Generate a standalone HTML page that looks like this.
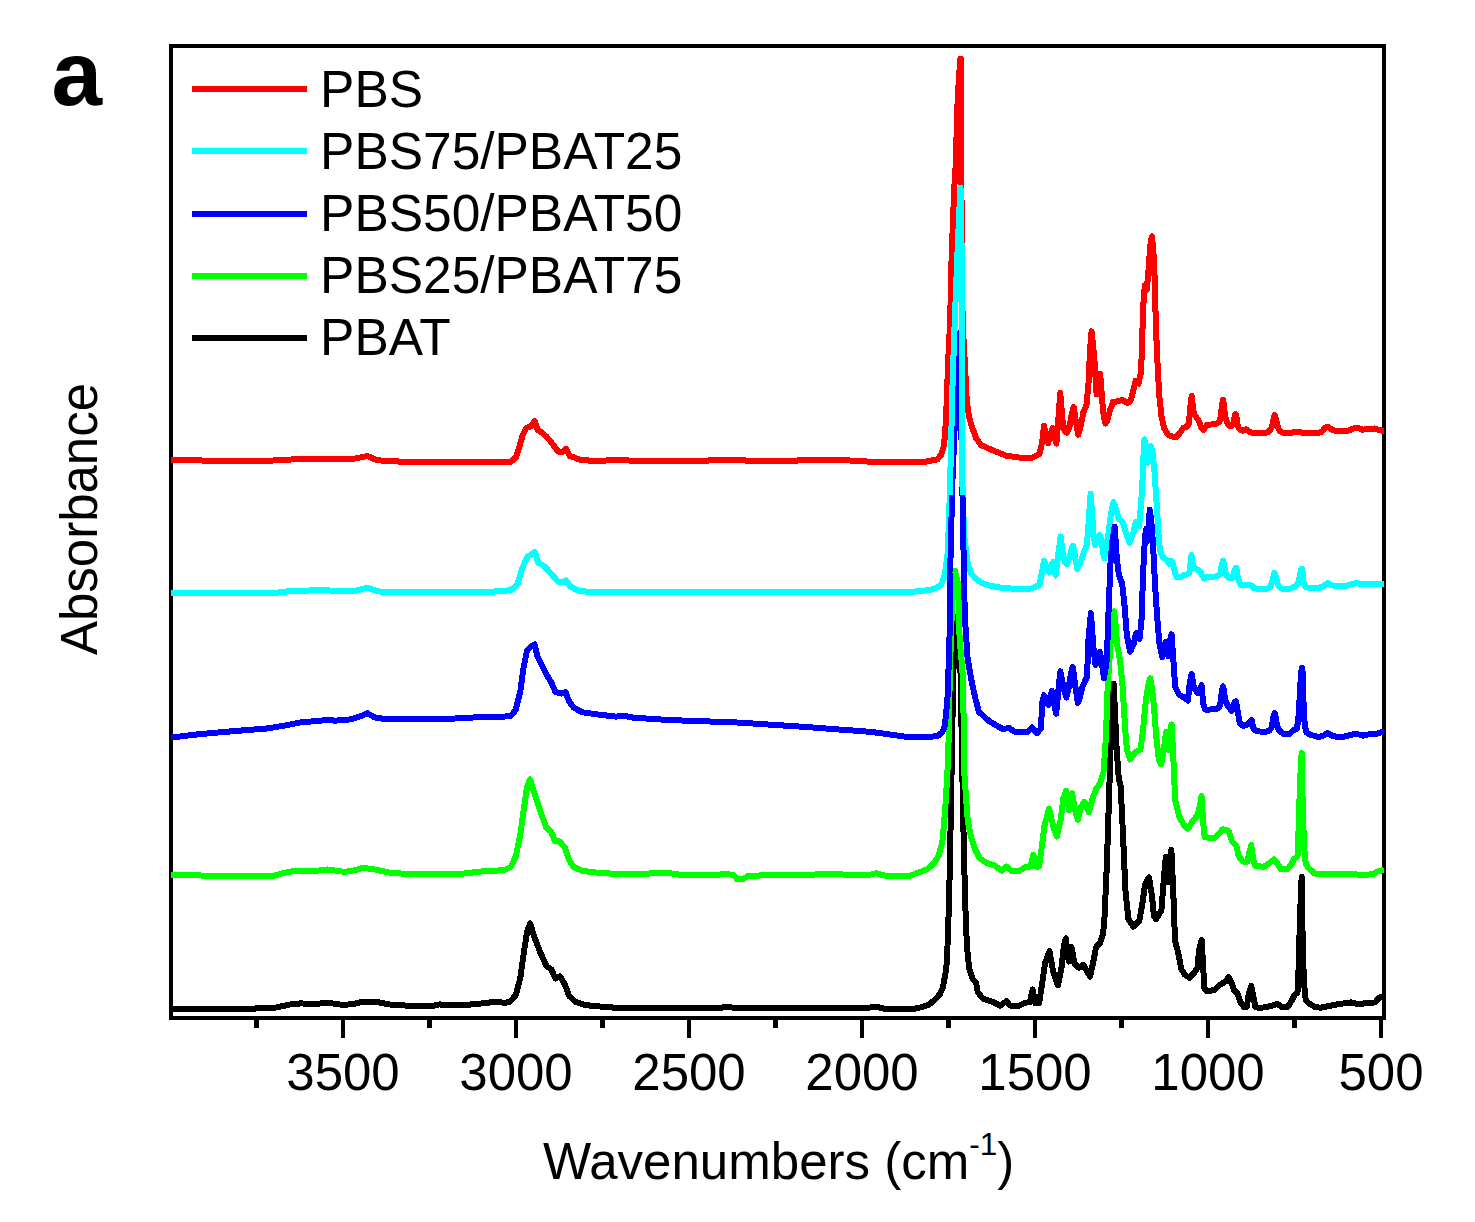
<!DOCTYPE html>
<html lang="en"><head><meta charset="utf-8"><title>FTIR spectra of PBS/PBAT blends</title>
<style>
html,body{margin:0;padding:0;background:#fff;}
body{width:1475px;height:1222px;overflow:hidden;}
svg{display:block;}
text{font-family:"Liberation Sans",sans-serif;fill:#000;}
.c{fill:none;stroke-width:6;stroke-linejoin:round;stroke-linecap:butt;}
</style></head><body>
<svg width="1475" height="1222" viewBox="0 0 1475 1222">
<rect x="0" y="0" width="1475" height="1222" fill="#fff"/>

<g shape-rendering="crispEdges" stroke="#000" fill="none">
<rect x="171" y="46" width="1213" height="972" stroke-width="4"/>
<line x1="1381.0" y1="1018" x2="1381.0" y2="1038" stroke-width="4"/>
<line x1="1294.5" y1="1018" x2="1294.5" y2="1028" stroke-width="5"/>
<line x1="1208.0" y1="1018" x2="1208.0" y2="1038" stroke-width="4"/>
<line x1="1121.5" y1="1018" x2="1121.5" y2="1028" stroke-width="5"/>
<line x1="1035.0" y1="1018" x2="1035.0" y2="1038" stroke-width="4"/>
<line x1="948.5" y1="1018" x2="948.5" y2="1028" stroke-width="5"/>
<line x1="862.0" y1="1018" x2="862.0" y2="1038" stroke-width="4"/>
<line x1="775.5" y1="1018" x2="775.5" y2="1028" stroke-width="5"/>
<line x1="689.0" y1="1018" x2="689.0" y2="1038" stroke-width="4"/>
<line x1="602.5" y1="1018" x2="602.5" y2="1028" stroke-width="5"/>
<line x1="516.0" y1="1018" x2="516.0" y2="1038" stroke-width="4"/>
<line x1="429.5" y1="1018" x2="429.5" y2="1028" stroke-width="5"/>
<line x1="343.0" y1="1018" x2="343.0" y2="1038" stroke-width="4"/>
<line x1="256.5" y1="1018" x2="256.5" y2="1028" stroke-width="5"/>
</g>
<clipPath id="cp"><rect x="170" y="46" width="1215" height="972"/></clipPath>
<g clip-path="url(#cp)" shape-rendering="crispEdges">
<polyline class="c" stroke="#ff0000" points="171.0,460.0 256.5,461.4 300.6,459.0 341.0,459.3 355.0,458.5 367.7,456.0 377.0,460.3 402.0,461.7 510.8,461.7 515.8,457.6 519.2,447.5 522.6,435.6 526.0,428.2 530.4,426.4 532.5,425.0 534.5,421.0 536.0,424.5 537.5,429.8 541.3,432.2 546.4,436.6 551.4,442.4 558.0,451.5 562.0,452.5 566.0,449.0 570.0,456.0 580.0,459.7 593.8,461.0 626.0,459.7 631.0,461.0 665.0,461.0 707.0,461.0 710.5,460.0 744.0,460.3 752.0,461.4 792.0,461.4 799.0,460.3 846.0,460.3 870.0,461.7 903.7,462.4 924.0,462.0 937.6,459.3 941.4,454.4 943.5,447.0 945.0,436.0 946.8,400.0 948.0,364.0 950.2,320.0 951.3,267.0 952.5,233.0 954.3,187.0 956.0,160.0 957.0,114.0 958.2,90.0 960.3,59.0 961.0,59.0 961.3,90.0 961.5,200.0 962.0,290.0 963.0,330.0 964.9,364.0 966.7,400.0 969.2,418.0 972.8,429.0 976.0,438.0 981.0,445.0 992.0,450.0 1006.0,455.6 1020.0,457.7 1032.3,457.7 1039.4,454.2 1042.0,443.0 1044.1,425.5 1046.0,437.0 1048.2,443.0 1050.5,434.0 1052.7,428.3 1054.5,438.0 1056.4,443.5 1058.3,420.0 1060.3,393.0 1062.5,420.0 1064.5,431.0 1067.0,432.7 1069.5,427.0 1071.5,415.0 1073.6,407.0 1075.7,420.0 1078.3,434.8 1080.5,427.0 1083.4,412.3 1086.5,405.0 1088.5,383.6 1090.0,350.0 1091.6,331.3 1093.0,345.0 1094.7,363.2 1096.6,394.5 1098.5,378.5 1100.2,373.8 1101.4,389.8 1102.8,408.0 1104.0,418.0 1105.6,423.5 1107.5,420.0 1110.0,410.2 1113.0,402.0 1116.0,401.6 1122.3,400.0 1127.4,403.0 1130.5,401.0 1132.9,391.8 1135.6,380.6 1138.6,383.6 1141.1,371.4 1142.1,342.7 1143.1,308.0 1144.8,285.5 1146.8,290.0 1148.5,270.0 1150.3,246.0 1151.9,236.4 1153.3,250.0 1154.6,277.3 1155.4,308.0 1156.6,342.7 1158.0,373.4 1159.5,398.0 1161.5,416.4 1164.2,428.6 1168.3,434.8 1172.0,436.5 1176.0,437.4 1180.4,432.2 1183.4,427.7 1186.5,427.0 1188.7,424.0 1189.3,418.0 1190.1,410.0 1191.0,400.0 1191.8,395.8 1192.3,400.0 1192.9,408.0 1194.0,414.0 1196.5,417.5 1198.5,420.5 1200.2,424.5 1201.5,428.0 1203.3,430.0 1207.3,424.7 1213.3,424.4 1217.0,423.5 1219.5,422.0 1220.2,419.0 1221.1,413.0 1222.1,404.0 1223.0,399.9 1223.6,403.0 1224.2,409.0 1225.0,414.0 1225.9,419.0 1227.2,423.0 1229.0,425.7 1231.0,426.0 1232.5,425.0 1233.6,422.5 1234.2,418.5 1235.0,415.0 1235.6,414.1 1236.2,415.5 1236.9,419.0 1237.5,424.0 1238.5,427.5 1240.1,429.8 1243.1,430.7 1246.1,429.2 1249.8,432.2 1253.5,433.0 1265.4,433.0 1268.3,431.9 1270.5,429.5 1271.8,426.5 1272.9,422.5 1274.0,417.0 1274.6,415.0 1275.2,416.5 1276.0,419.5 1277.0,423.5 1277.9,426.5 1279.0,429.5 1280.5,431.5 1283.3,433.0 1290.8,433.0 1293.8,431.9 1299.8,431.9 1302.7,433.0 1317.7,433.0 1322.1,431.5 1325.1,427.7 1328.1,426.5 1331.1,429.2 1335.5,431.0 1347.5,431.0 1353.4,428.5 1357.9,427.7 1362.4,429.7 1368.4,428.9 1374.3,428.5 1378.8,430.0 1384.0,431.0"/>
<polyline class="c" stroke="#00ffff" points="171.0,592.7 276.9,592.7 290.4,591.0 327.7,590.0 334.5,591.4 354.8,591.0 367.4,587.6 376.9,591.0 385.3,592.4 490.4,592.4 497.2,591.0 510.8,590.3 517.5,584.2 522.6,567.3 527.7,556.4 531.0,555.0 534.5,552.0 536.0,555.0 537.9,562.2 544.7,566.6 551.4,574.0 558.2,581.9 562.3,582.5 566.0,580.2 570.1,586.0 576.9,590.3 588.7,592.0 665.0,592.4 700.0,592.4 726.0,591.5 735.0,592.4 900.0,592.4 920.0,591.2 932.0,589.5 938.0,587.0 941.0,584.5 944.0,578.0 945.6,569.0 947.9,551.0 949.8,495.0 951.2,439.0 952.4,389.0 954.2,335.0 956.0,290.0 958.0,240.0 960.5,187.7 961.5,240.0 962.0,330.0 962.0,438.0 962.6,495.0 964.3,537.0 968.0,565.0 971.5,574.0 975.7,578.6 982.0,583.0 989.7,585.6 1000.0,587.5 1010.0,588.4 1020.0,589.2 1031.5,588.5 1039.5,585.0 1042.5,569.0 1044.1,560.5 1046.5,568.0 1048.7,572.5 1051.0,566.0 1053.2,562.0 1054.6,571.0 1055.8,575.5 1058.2,555.0 1060.6,536.5 1062.8,553.0 1065.0,562.0 1067.0,564.4 1069.5,557.0 1071.5,549.0 1073.2,545.6 1075.2,558.0 1077.3,569.0 1080.0,563.0 1083.0,555.3 1087.0,543.8 1088.8,520.0 1090.6,493.6 1092.0,512.0 1093.4,535.0 1095.3,545.5 1097.3,540.0 1099.5,535.0 1101.5,540.0 1103.0,552.0 1104.3,558.5 1106.0,548.0 1108.3,534.6 1110.8,515.0 1113.5,502.0 1116.0,509.0 1118.6,518.6 1122.7,522.0 1126.0,533.0 1129.6,542.7 1133.5,532.3 1135.8,522.0 1139.2,526.0 1142.2,488.8 1143.2,461.3 1144.4,439.5 1146.3,452.0 1147.8,463.0 1149.3,452.0 1151.0,446.0 1152.6,453.0 1154.1,465.9 1156.4,500.2 1158.3,530.0 1159.0,542.0 1160.0,549.0 1161.0,553.5 1162.5,556.8 1164.4,558.3 1167.0,560.5 1169.0,563.5 1171.3,560.8 1172.8,563.0 1174.3,570.0 1175.6,575.0 1177.0,577.0 1181.0,577.0 1183.5,575.0 1187.0,574.5 1189.3,573.0 1190.1,566.0 1191.1,558.0 1191.5,555.1 1191.9,558.0 1192.9,564.0 1194.0,567.5 1197.0,569.3 1199.5,571.0 1201.0,573.0 1202.3,576.0 1204.5,578.5 1207.0,577.0 1211.0,576.9 1215.0,576.5 1218.5,575.5 1220.3,573.5 1221.0,569.0 1222.0,563.5 1223.0,561.0 1223.3,562.0 1224.1,565.0 1225.1,570.5 1226.2,574.5 1228.0,577.5 1230.0,578.0 1232.0,578.0 1233.3,575.0 1234.0,572.0 1235.0,569.5 1236.0,567.9 1236.4,569.0 1237.0,572.0 1238.0,578.0 1239.0,581.5 1240.5,584.5 1243.1,585.2 1247.6,584.9 1251.3,585.5 1254.3,588.2 1259.5,589.0 1266.0,589.0 1268.0,588.5 1270.5,586.5 1272.0,582.5 1273.0,578.5 1274.0,574.0 1274.4,572.8 1275.1,574.0 1276.0,578.0 1277.0,581.5 1277.8,584.0 1278.9,586.3 1281.0,588.5 1283.3,589.0 1289.3,588.8 1293.5,587.3 1296.0,585.5 1298.1,583.0 1299.1,579.5 1300.1,574.5 1301.1,570.0 1302.2,568.9 1302.6,572.0 1302.9,578.0 1304.0,584.0 1305.5,587.3 1310.2,588.0 1319.1,587.9 1323.6,585.9 1327.8,583.0 1331.1,585.2 1335.5,585.9 1346.0,585.9 1352.0,584.0 1356.4,583.0 1360.9,584.0 1384.0,584.0"/>
<polyline class="c" stroke="#000000" points="171.0,1008.5 243.0,1008.8 273.5,1008.1 290.4,1004.4 300.6,1003.4 314.2,1004.1 327.7,1002.7 341.3,1004.7 351.4,1004.4 363.3,1001.7 375.2,1001.7 388.7,1004.4 409.1,1005.8 432.8,1005.8 439.6,1004.4 446.4,1005.4 473.5,1004.4 490.4,1002.4 498.9,1001.7 504.0,1003.0 510.1,1001.7 515.8,994.9 520.3,978.0 523.6,954.2 527.0,932.2 530.1,923.4 534.5,937.3 539.6,950.8 546.4,966.1 551.4,969.5 555.5,978.6 559.9,976.3 565.0,984.7 569.1,995.9 575.2,1001.7 585.3,1005.1 605.7,1007.1 629.4,1008.5 718.6,1008.1 725.4,1007.1 742.4,1008.1 854.2,1008.5 867.8,1007.8 876.3,1006.8 884.7,1008.8 894.9,1009.5 911.9,1009.2 922.0,1007.1 929.2,1004.5 936.0,998.8 940.0,994.0 942.9,987.3 946.3,969.0 947.5,946.1 949.1,900.3 950.5,831.6 951.8,760.0 953.2,675.0 955.0,640.0 957.5,616.0 959.0,640.0 960.6,675.0 962.1,760.0 963.5,831.6 965.1,900.3 966.9,946.1 969.2,969.0 972.7,979.3 976.1,982.7 977.7,991.9 983.0,998.8 993.3,1002.2 1000.1,1005.6 1006.6,1001.0 1010.0,1005.6 1018.6,1005.8 1025.4,1002.7 1029.8,1002.2 1032.6,989.5 1035.4,1003.2 1039.1,1003.1 1042.1,984.0 1045.0,963.4 1049.5,951.2 1053.2,971.8 1057.9,985.2 1061.4,968.5 1063.8,946.5 1065.9,938.4 1067.8,955.0 1068.8,961.5 1069.8,954.0 1071.5,947.2 1074.5,963.4 1078.9,967.8 1083.3,964.9 1090.1,976.6 1093.6,960.4 1096.0,947.2 1100.1,942.8 1102.8,935.0 1104.3,922.0 1106.8,866.2 1109.2,792.5 1111.5,718.9 1113.7,683.6 1116.6,748.4 1118.7,777.8 1120.7,786.7 1123.1,836.7 1125.4,889.7 1128.4,919.2 1133.4,926.6 1139.3,920.7 1142.2,904.5 1145.2,883.9 1149.0,877.4 1151.9,895.6 1154.0,916.3 1156.1,919.2 1161.4,910.4 1163.4,883.9 1165.8,857.3 1167.2,872.0 1168.3,882.0 1169.5,866.0 1170.5,854.0 1171.4,850.0 1173.4,895.0 1175.0,941.0 1178.2,952.5 1181.2,968.9 1184.9,974.8 1189.4,977.8 1193.9,973.3 1197.6,967.4 1199.1,949.5 1201.6,939.8 1203.1,964.4 1204.3,988.3 1207.3,991.2 1214.7,990.0 1219.2,985.3 1225.2,981.6 1228.9,977.1 1231.9,983.8 1234.1,990.5 1237.1,992.7 1240.1,1001.7 1243.8,1006.9 1246.8,1006.9 1248.7,994.2 1251.3,986.0 1253.5,997.2 1255.3,1006.9 1259.5,1008.1 1266.9,1006.9 1272.9,1005.4 1277.4,1003.9 1281.9,1006.9 1287.8,1006.9 1291.6,1000.9 1294.5,995.0 1297.5,992.7 1298.4,975.0 1299.2,946.0 1300.2,913.0 1301.2,886.0 1301.7,876.9 1302.2,900.0 1302.6,940.0 1303.8,978.0 1305.0,995.0 1306.0,1000.5 1308.7,1003.2 1314.7,1006.9 1320.6,1007.7 1328.1,1006.2 1335.5,1004.7 1343.0,1003.5 1351.2,1002.4 1358.7,1004.4 1365.4,1003.2 1375.1,1002.4 1378.8,998.0 1384.0,995.7"/>
<polyline class="c" stroke="#00ff00" points="171.0,874.6 198.9,875.3 205.7,875.9 273.5,875.9 283.6,872.9 297.2,870.5 310.8,871.5 327.7,869.5 344.7,871.9 354.8,870.2 363.3,867.8 375.2,869.5 388.7,872.5 405.7,873.9 463.3,873.6 483.6,871.2 504.0,870.2 510.8,866.8 515.8,856.6 520.3,834.6 523.6,810.8 527.0,787.1 530.1,779.3 534.5,793.9 539.6,809.2 546.4,827.8 551.4,831.9 554.8,841.4 559.9,841.4 565.0,848.1 569.1,860.0 573.5,866.8 582.0,870.8 595.5,872.5 615.8,873.9 646.4,873.9 654.2,872.9 674.6,873.6 681.4,875.3 715.3,875.3 725.4,873.6 733.9,875.3 737.3,879.3 742.4,879.3 747.5,876.3 762.7,875.3 810.2,875.3 816.9,874.2 850.8,874.6 867.8,875.3 876.3,873.2 884.7,875.6 910.2,875.6 918.6,872.5 927.1,869.2 933.9,863.4 939.0,854.9 942.4,841.4 945.1,810.8 947.3,776.0 948.6,740.0 949.8,675.0 950.9,640.0 952.0,606.0 953.5,585.0 955.1,571.0 957.8,583.0 958.6,602.0 959.5,634.5 960.7,651.7 962.4,669.0 963.0,686.0 963.6,717.0 964.5,776.0 965.8,794.0 967.8,821.0 971.2,838.0 974.6,848.1 979.7,858.3 986.4,862.7 994.9,865.8 1001.7,870.7 1006.8,866.5 1011.9,871.2 1018.6,871.2 1025.4,867.3 1030.5,866.5 1033.4,854.7 1035.8,866.5 1039.0,866.5 1041.9,846.5 1044.6,825.0 1049.1,808.7 1053.4,826.8 1056.8,836.6 1060.7,819.5 1063.4,798.0 1066.2,790.7 1068.3,805.0 1069.2,810.5 1070.2,803.0 1072.1,793.1 1075.3,811.1 1077.7,819.7 1081.4,806.2 1084.4,801.7 1088.8,812.3 1092.5,798.8 1096.1,788.5 1099.8,784.1 1103.6,771.8 1105.9,737.4 1107.6,688.3 1110.8,639.1 1112.6,622.0 1114.1,611.4 1115.6,625.0 1117.0,644.0 1120.2,661.2 1122.7,688.3 1125.1,727.6 1126.9,749.7 1130.0,759.5 1135.5,752.1 1140.4,749.7 1142.8,732.5 1145.8,700.5 1148.3,685.0 1150.2,678.4 1152.0,688.0 1153.9,705.5 1156.3,737.4 1158.8,759.5 1161.2,764.4 1163.7,749.7 1166.2,731.7 1167.5,742.0 1168.5,750.0 1169.6,738.0 1170.6,728.5 1171.6,724.4 1173.5,761.9 1175.2,800.0 1179.0,816.1 1183.4,824.3 1187.9,828.7 1192.4,821.3 1196.8,816.1 1199.1,810.1 1201.6,795.9 1203.1,822.0 1204.6,836.9 1208.8,837.7 1214.7,837.7 1219.2,833.2 1222.9,829.2 1228.9,831.0 1231.9,841.4 1236.4,845.9 1238.6,856.3 1243.1,861.5 1247.6,861.5 1249.0,853.3 1251.3,845.1 1253.2,859.3 1255.3,866.0 1264.0,866.8 1268.4,863.8 1274.1,859.3 1278.1,864.5 1281.1,869.0 1287.1,869.5 1290.8,865.3 1293.8,859.3 1297.5,856.3 1298.1,845.0 1299.0,815.0 1300.0,784.0 1301.1,760.0 1301.7,753.1 1302.0,770.0 1302.8,810.0 1304.0,843.0 1304.9,857.0 1305.9,864.0 1308.7,868.3 1314.7,873.5 1320.6,874.2 1328.1,873.5 1335.5,874.5 1349.0,873.8 1362.4,875.0 1372.8,874.2 1378.0,871.2 1384.0,870.0"/>
<polyline class="c" stroke="#0000ff" points="171.0,737.6 198.9,734.2 232.8,731.2 266.7,728.5 283.6,725.8 300.6,722.4 317.5,721.0 329.4,719.7 334.5,720.7 351.4,719.3 361.6,715.9 367.4,713.2 375.2,717.6 382.0,718.6 453.1,718.6 470.0,717.6 504.0,716.6 510.8,715.9 515.8,709.8 520.3,691.2 523.6,667.5 527.0,650.5 530.4,647.0 534.5,644.4 537.2,655.6 541.3,664.0 546.4,674.2 551.4,682.7 555.5,691.9 561.6,693.6 565.7,692.2 569.1,701.4 573.5,707.5 582.0,712.2 595.5,714.2 615.8,716.6 624.3,715.9 632.8,717.6 667.8,720.0 735.6,722.4 803.4,726.8 871.2,731.9 905.0,736.6 930.0,736.8 937.7,736.0 942.4,732.0 944.6,726.7 946.0,715.0 947.5,697.0 948.5,670.0 949.5,638.0 950.6,551.0 952.5,480.0 955.0,420.0 957.0,370.0 958.5,333.4 960.0,370.0 961.5,440.0 963.0,523.0 964.6,606.0 965.4,625.0 967.6,658.0 971.0,678.0 975.0,697.0 979.0,712.0 988.8,720.8 998.6,726.7 1003.4,729.2 1008.5,727.8 1015.3,731.9 1027.1,732.5 1032.2,727.5 1037.0,733.3 1040.9,728.3 1042.3,702.8 1044.0,695.1 1046.2,700.0 1048.3,704.9 1050.2,696.0 1051.9,690.9 1054.0,703.0 1056.2,713.6 1058.4,690.0 1060.4,671.3 1062.5,682.0 1064.5,692.0 1066.4,697.5 1068.6,688.0 1071.0,673.0 1072.8,667.0 1075.0,684.0 1077.9,703.0 1080.5,695.0 1082.8,685.7 1087.0,677.2 1088.5,638.9 1090.9,613.2 1093.4,647.4 1095.6,665.0 1097.6,657.0 1099.8,651.7 1102.0,664.0 1104.0,678.3 1106.8,660.2 1108.3,617.7 1110.4,564.5 1112.5,540.0 1114.7,526.6 1116.8,558.1 1118.9,575.1 1122.1,583.6 1124.7,607.0 1126.8,634.7 1130.2,651.7 1133.8,643.2 1136.0,633.4 1139.6,638.9 1141.7,617.7 1143.0,575.1 1144.3,549.6 1145.3,534.0 1146.2,529.0 1147.4,541.0 1148.4,528.0 1149.8,509.6 1151.5,524.0 1153.0,543.2 1155.1,585.7 1157.2,617.7 1159.4,643.2 1162.1,657.0 1164.0,650.0 1165.7,641.9 1167.2,650.0 1168.3,656.0 1169.5,646.0 1170.5,638.5 1171.5,634.3 1173.7,664.7 1175.2,687.1 1179.0,694.6 1184.2,697.6 1187.9,700.5 1189.4,685.6 1191.6,674.0 1193.9,687.1 1197.6,693.1 1199.1,690.1 1201.6,685.3 1203.1,703.5 1205.0,709.5 1210.3,709.5 1216.2,709.2 1218.5,708.0 1220.2,705.0 1221.0,699.0 1222.0,690.0 1223.0,686.3 1223.8,689.0 1224.5,695.0 1225.5,701.0 1228.2,706.5 1231.9,711.0 1233.8,703.5 1235.9,701.3 1237.9,712.5 1239.8,722.9 1243.1,725.9 1247.6,724.4 1251.7,720.2 1253.5,728.9 1256.5,731.1 1264.0,731.9 1266.5,731.5 1269.5,730.5 1271.5,727.5 1272.6,722.0 1273.4,716.5 1274.5,713.2 1275.2,714.5 1275.8,718.0 1276.6,723.0 1277.8,727.5 1279.6,731.1 1284.8,734.5 1289.3,734.1 1293.0,730.4 1296.8,728.9 1298.0,722.0 1299.0,710.0 1300.0,691.0 1301.0,673.0 1302.0,667.7 1302.7,673.0 1303.1,691.0 1304.0,716.0 1305.0,727.0 1306.5,732.5 1310.2,734.8 1319.1,737.1 1323.6,735.6 1327.8,733.0 1331.8,735.6 1338.5,737.4 1346.0,736.3 1355.7,733.6 1363.1,735.6 1369.9,734.1 1377.3,733.6 1381.8,731.9 1384.0,732.6"/>
<polyline class="c" stroke="#000000" points="940.0,994.0 942.9,987.3 946.3,969.0 947.5,946.1 949.1,900.3 950.5,831.6"/>
<polyline class="c" stroke="#000000" points="963.5,831.6 965.1,900.3 966.9,946.1 969.2,969.0 972.7,979.3"/>
<polyline class="c" stroke="#00ff00" points="955.1,571.0 957.8,583.0 958.6,602.0 959.5,634.5 960.7,651.7 962.4,669.0 963.0,686.0 963.6,717.0"/>
<polyline class="c" stroke="#00ffff" points="949.8,495.0 951.2,439.0 952.4,389.0 954.2,335.0 956.0,290.0 958.0,240.0 960.5,187.7 961.5,240.0 962.0,330.0 962.0,438.0 962.6,495.0"/>
</g>
<text x="1381.0" y="1089.5" font-size="51" text-anchor="middle">500</text>
<text x="1208.0" y="1089.5" font-size="51" text-anchor="middle">1000</text>
<text x="1035.0" y="1089.5" font-size="51" text-anchor="middle">1500</text>
<text x="862.0" y="1089.5" font-size="51" text-anchor="middle">2000</text>
<text x="689.0" y="1089.5" font-size="51" text-anchor="middle">2500</text>
<text x="516.0" y="1089.5" font-size="51" text-anchor="middle">3000</text>
<text x="343.0" y="1089.5" font-size="51" text-anchor="middle">3500</text>
<text x="778.6" y="1178.8" font-size="51.05" text-anchor="middle">Wavenumbers (cm<tspan font-size="31.5" dy="-23.8">-1</tspan><tspan dy="23.8">)</tspan></text>
<text transform="translate(96.8,519) rotate(-90)" font-size="51" text-anchor="middle">Absorbance</text>
<text x="51.5" y="104.8" font-size="91" font-weight="bold">a</text>
<line x1="192" y1="88.5" x2="307" y2="88.5" stroke="#ff0000" stroke-width="6" shape-rendering="crispEdges"/>
<text x="320.1" y="107.0" font-size="51.45">PBS</text>
<line x1="192" y1="151.0" x2="307" y2="151.0" stroke="#00ffff" stroke-width="6" shape-rendering="crispEdges"/>
<text x="320.1" y="169.0" font-size="51.45">PBS75/PBAT25</text>
<line x1="192" y1="214.0" x2="307" y2="214.0" stroke="#0000ff" stroke-width="6" shape-rendering="crispEdges"/>
<text x="320.1" y="231.0" font-size="51.45">PBS50/PBAT50</text>
<line x1="192" y1="276.0" x2="307" y2="276.0" stroke="#00ff00" stroke-width="6" shape-rendering="crispEdges"/>
<text x="320.1" y="293.0" font-size="51.45">PBS25/PBAT75</text>
<line x1="192" y1="338.0" x2="307" y2="338.0" stroke="#000000" stroke-width="6" shape-rendering="crispEdges"/>
<text x="320.1" y="355.0" font-size="51.45">PBAT</text>
</svg></body></html>
